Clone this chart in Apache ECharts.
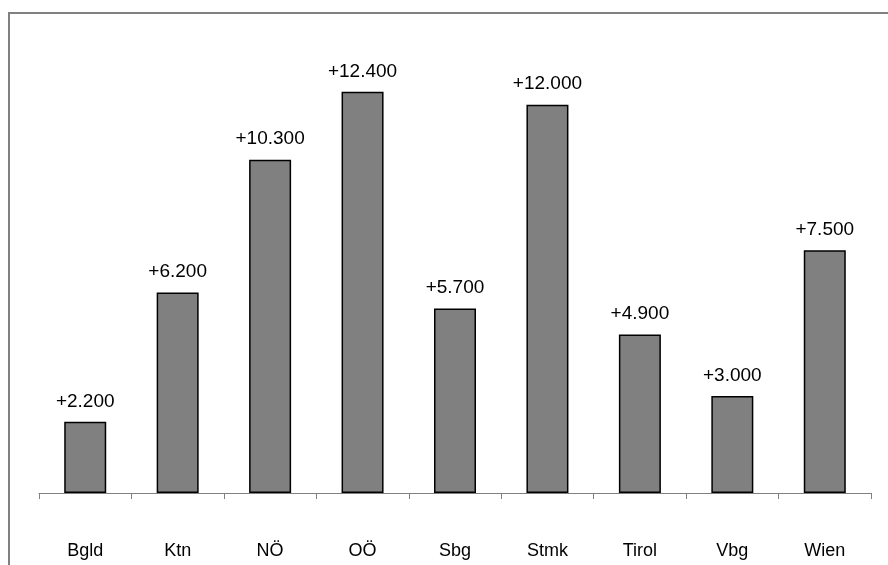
<!DOCTYPE html>
<html>
<head>
<meta charset="utf-8">
<script src="https://cdn.jsdelivr.net/npm/echarts@6/dist/echarts.min.js"></script>
<style>
html,body{margin:0;padding:0;background:#fff;}
#c{width:888px;height:565px;}
</style>
</head>
<body>
<div id="c"></div>
<script>
const categories = ["Bgld", "Ktn", "NÖ", "OÖ", "Sbg", "Stmk", "Tirol", "Vbg", "Wien"];
const values = [2200, 6200, 10300, 12400, 5700, 12000, 4900, 3000, 7500];

function fmt(v) {
  const s = String(Math.round(v)).replace(/\B(?=(\d{3})+(?!\d))/g, ".");
  return (v > 0 ? "+" : "") + s;
}

const chart = echarts.init(document.getElementById('c'));
chart.setOption({
  animation: false,
  textStyle: { fontFamily: 'Liberation Sans, Arial, sans-serif' },
  graphic: [{
    type: 'rect',
    shape: { x: 9, y: 13, width: 1000, height: 700 },
    style: { fill: 'none', stroke: '#808080', lineWidth: 2 },
    silent: true
  }],
  grid: { left: 39, right: 17, top: 40, bottom: 72 },
  xAxis: {
    type: 'category',
    data: categories,
    axisLine: { lineStyle: { color: '#808080', width: 1 } },
    axisTick: { show: true, length: 6, lineStyle: { color: '#808080' } },
    axisLabel: { color: '#000', fontSize: 18, margin: 49, fontFamily: 'Liberation Sans, Arial, sans-serif' }
  },
  yAxis: {
    type: 'value',
    min: 0,
    max: 14000,
    show: false,
    splitLine: { show: false }
  },
  series: [{
    type: 'bar',
    data: values,
    barWidth: 42,
    itemStyle: { color: '#808080', borderColor: '#000', borderWidth: 1.5 },
    label: {
      show: true,
      position: 'top',
      distance: 11,
      color: '#000',
      fontSize: 19,
      fontFamily: 'Liberation Sans, Arial, sans-serif',
      formatter: p => fmt(p.value)
    }
  }]
});
</script>
</body>
</html>
